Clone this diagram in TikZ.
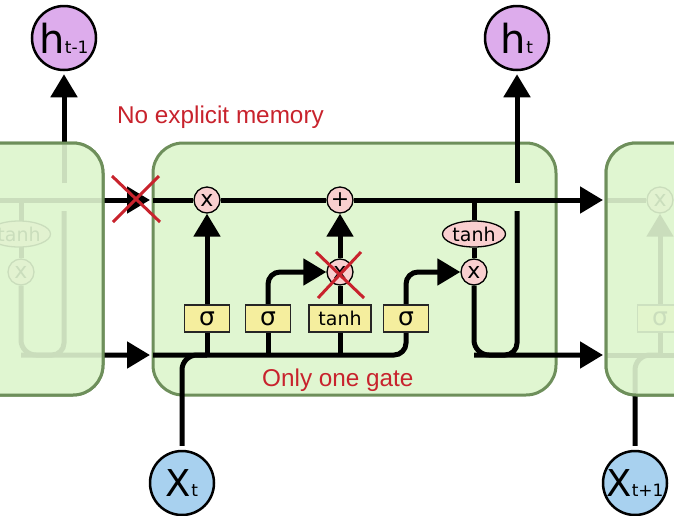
\documentclass[tikz,border=0pt]{standalone}
\usepackage{fontspec}
\setmainfont{DejaVu Sans}
\newfontfamily\annofont{Liberation Sans}
\usetikzlibrary{arrows.meta,shapes.geometric}
\definecolor{cellfill}{RGB}{224,246,209}
\definecolor{cellborder}{RGB}{110,143,91}
\definecolor{oppink}{RGB}{249,207,207}
\definecolor{gateyellow}{RGB}{245,238,158}
\definecolor{hpurple}{RGB}{221,172,236}
\definecolor{xblue}{RGB}{168,209,239}
\definecolor{annored}{RGB}{200,35,45}
\pgfdeclarelayer{cellbg}
\pgfdeclarelayer{lines}
\pgfdeclarelayer{fade}
\pgfsetlayers{cellbg,lines,main,fade}
\newcommand\hlab[1]{{\fontsize{40}{40}\selectfont h}{\fontsize{17}{17}\selectfont #1}}
\newcommand\xlab[1]{{\fontsize{37}{37}\selectfont X}{\fontsize{17}{17}\selectfont #1}}
\tikzset{
  wire/.style={line width=5pt, draw=black},
  arr/.style={-{Triangle[length=23pt,width=26pt]}},
  op/.style={circle, draw=black, line width=1.3pt, fill=oppink, minimum size=26pt, inner sep=0pt, font=\fontsize{22}{22}\selectfont},
  gatebox/.style={rectangle, draw=black!85, line width=1.3pt, fill=gateyellow, minimum width=45pt, minimum height=27pt, inner sep=0pt, font=\fontsize{25}{25}\selectfont},
  tanhbox/.style={gatebox, minimum width=62pt, font=\fontsize{19}{19}\selectfont},
  tanhell/.style={ellipse, draw=black, line width=1.3pt, fill=oppink, minimum width=63pt, minimum height=26pt, inner sep=0pt, font=\fontsize{19}{19}\selectfont},
  cellshape/.style={rounded corners=30pt, line width=3pt, draw=cellborder, fill=cellfill},
  hcirc/.style={circle, draw=black, line width=2.5pt, fill=hpurple, minimum size=64pt, inner sep=0pt},
  xcirc/.style={circle, draw=black, line width=2.5pt, fill=xblue, minimum size=64pt, inner sep=0pt},
  redx/.style={draw=annored, line width=3pt},
  anno/.style={text=annored, inner sep=0pt, font=\annofont\fontsize{24.3}{28}\selectfont}
}
\begin{document}
\begin{tikzpicture}[x=1pt,y=-1pt]
\useasboundingbox (0,0) rectangle (674,515);
% cell backgrounds
\begin{pgfonlayer}{cellbg}
  \draw[cellshape] (153,143) rectangle (556,395);
  \draw[cellshape] (-300,143) rectangle (103,395);
  \draw[cellshape] (606,143) rectangle (1009,395);
\end{pgfonlayer}
% main cell nodes
\node[op] (m1) at (207,200) {x};
\node[op] (pl) at (340,200) {+};
\node[op] (m2) at (340,272) {x};
\node[op] (m3) at (474,272) {x};
\node[tanhell] (th) at (474,234) {tanh};
\node[gatebox] (g1) at (207,318.5) {σ};
\node[gatebox] (g2) at (268,318.5) {σ};
\node[tanhbox] (g3) at (340,318.5) {tanh};
\node[gatebox] (g4) at (406,318.5) {σ};
\coordinate (cin) at (153,200);
\coordinate (cout) at (603,200);
\coordinate (hin) at (153,355);
\coordinate (hout) at (603,355);
\coordinate (hup) at (517,211);
\coordinate (hupb) at (517,183);
% inputs / outputs
\node[hcirc] (ht) at (517,38) {\hlab{t}};
\node[hcirc] (htm1) at (64,38) {\hlab{t-1}};
\node[xcirc] (xt) at (182,483) {\xlab{t}};
\node[xcirc] (xtp1) at (635,483) {\xlab{t+1}};
% left (previous) cell, visible part
\begin{scope}[xshift=-453pt]
  \node[tanhell] (Lth) at (472,234) {tanh};
  \node[op] (Lm3) at (474,272) {x};
  \coordinate (Lcin) at (440,200);
  \coordinate (Lcout) at (603,200);
  \coordinate (Lhout) at (603,355);
  \coordinate (Lhup) at (517,211);
  \coordinate (Lhupb) at (517,183);
\end{scope}
% right (next) cell, visible part
\begin{scope}[xshift=453pt]
  \node[op] (Rm1) at (207,200) {x};
  \node[gatebox] (Rg1) at (207,318.5) {σ};
  \coordinate (Rcin) at (153,200);
  \coordinate (Rcend) at (260,200);
  \coordinate (Rhin) at (153,355);
  \coordinate (Rhend) at (260,355);
\end{scope}
\begin{pgfonlayer}{lines}
  % main cell wiring
  \draw[wire] (cin) -- (m1) -- (pl);
  \draw[wire,arr] (pl) -- (cout);
  \draw[wire,rounded corners=12pt] (hin) -| (g4.south);
  \draw[wire] (g1.south) -- (g1.south |- hin);
  \draw[wire] (g2.south) -- (g2.south |- hin);
  \draw[wire] (g3.south) -- (g3.south |- hin);
  \draw[wire,rounded corners=15pt,shorten <=4pt] (xt) |- (g1.south |- hin);
  \draw[wire,arr] (g1.north) -- (m1.south);
  \draw[wire,arr,rounded corners=12pt] (g2.north) |- (m2.west);
  \draw[wire] (g3.north) -- (m2.south);
  \draw[wire,arr] (m2.north) -- (pl.south);
  \draw[wire,arr,rounded corners=12pt] (g4.north) |- (m3.west);
  \draw[wire] (th.north |- cin) -- (th.north);
  \draw[wire] (th.south) -- (m3.north);
  \draw[wire,arr,rounded corners=15pt] (m3.south) |- (hout);
  \draw[wire,rounded corners=12pt] (hup) |- (m3.south |- hout);
  \draw[wire,arr,shorten >=3pt] (hupb) -- (ht);
  % left cell wiring
  \draw[wire,arr] (Lcin) -- (Lcout);
  \draw[wire] (Lm3.north |- Lcin) -- (Lm3.north);
  \draw[wire,arr,rounded corners=15pt] (Lm3.south) |- (Lhout);
  \draw[wire,rounded corners=12pt] (Lhup) |- (Lm3.south |- Lhout);
  \draw[wire,arr,shorten >=3pt] (Lhupb) -- (htm1);
  % right cell wiring
  \draw[wire] (Rcin) -- (Rm1) -- (Rcend);
  \draw[wire] (Rhin) -- (Rhend);
  \draw[wire] (Rg1.south) -- (Rg1.south |- Rhin);
  \draw[wire,arr] (Rg1.north) -- (Rm1.south);
  \draw[wire,rounded corners=15pt,shorten <=4pt] (xtp1) |- (Rg1.south |- Rhin);
\end{pgfonlayer}
% fading of neighbour cells
\begin{pgfonlayer}{fade}
  \fill[cellfill, opacity=0.9, rounded corners=30pt] (-300,143) rectangle (103,395);
  \draw[cellborder, line width=3pt, rounded corners=30pt] (-300,143) rectangle (103,395);
  \fill[cellfill, opacity=0.9, rounded corners=30pt] (606,143) rectangle (1009,395);
  \draw[cellborder, line width=3pt, rounded corners=30pt] (606,143) rectangle (1009,395);
\end{pgfonlayer}
% red annotations
\draw[redx] (112,176) -- (160,222) (159,176) -- (113,222);
\draw[redx] (316,252) -- (364,298) (361,252) -- (318,298);
\node[anno, anchor=base west] (lbl1) at (117,123) {No explicit memory};
\node[anno, anchor=base west] (lbl2) at (262,386) {Only one gate};
\end{tikzpicture}
\end{document}
